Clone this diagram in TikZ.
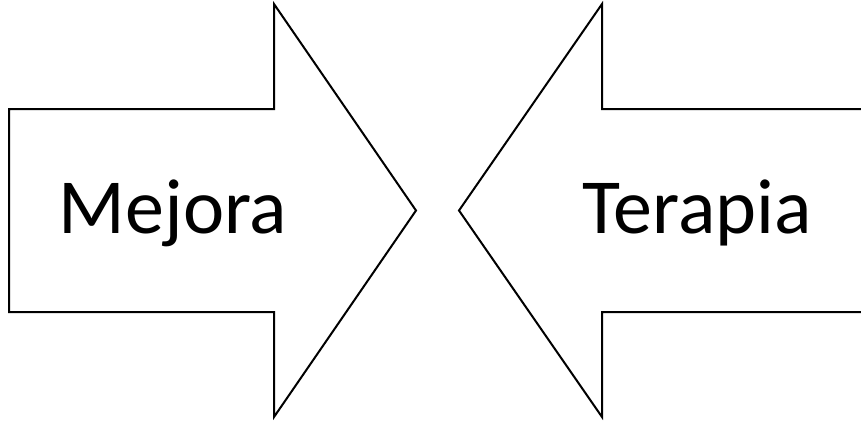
\documentclass[tikz,border=0pt]{standalone}
\usepackage{fontspec}
\setmainfont{Carlito}
\begin{document}
\begin{tikzpicture}[x=1pt,y=-1pt,
  blockarrow/.style={draw=black,line width=2pt,fill=white,line join=miter},
  label/.style={font=\fontsize{78}{90}\selectfont,anchor=base,inner sep=0pt}]
\useasboundingbox (0,0) rectangle (861,420);
\begin{scope}
\clip (0,0) rectangle (861,420);
\draw[blockarrow] (9,109) -- (274,109) -- (274,4) -- (416,210.5) -- (274,417) -- (274,312) -- (9,312) -- cycle;
\draw[blockarrow] (880,109) -- (602,109) -- (602,4) -- (459,210.5) -- (602,417) -- (602,312) -- (880,312);
\end{scope}
\node[label] (mejora) at (173,233) {Mejora};
\node[label] (terapia) at (697,233) {Terapia};
\end{tikzpicture}
\end{document}
